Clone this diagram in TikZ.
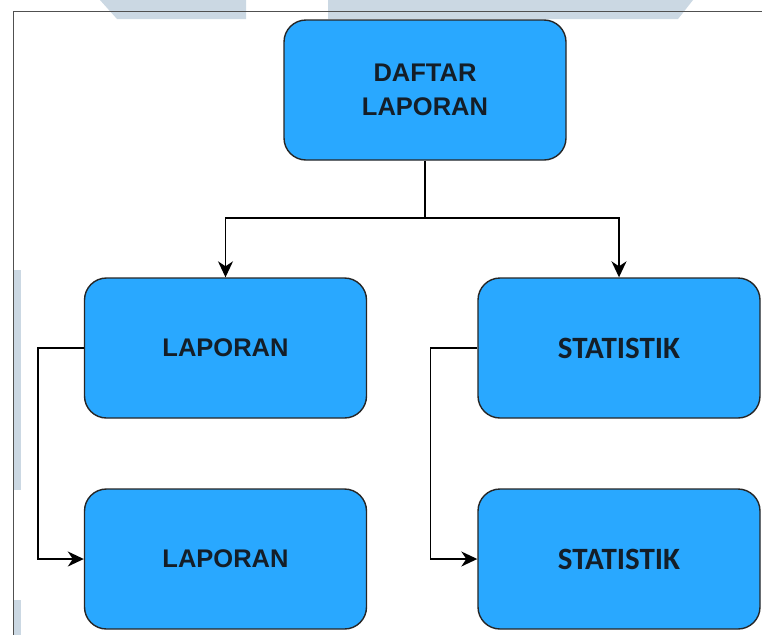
\documentclass[tikz,border=0pt]{standalone}
\usepackage{fontspec}
\setmainfont{Liberation Sans}
\newfontfamily\statfont{Carlito}
\usetikzlibrary{arrows.meta}
\definecolor{boxblue}{RGB}{41,168,255}
\definecolor{wmark}{RGB}{203,216,227}
\definecolor{framegray}{RGB}{80,80,80}
\definecolor{txt}{RGB}{20,30,40}
\begin{document}
\begin{tikzpicture}[x=1pt,y=-1pt,
  menubox/.style={draw=black!85, line width=1.4pt, fill=boxblue, rounded corners=22pt,
    minimum width=282pt, minimum height=140pt, inner sep=0pt, align=center, text=txt},
  conn/.style={draw=black, line width=1.6pt},
  arr/.style={conn, -{Stealth[length=16pt,width=15pt,inset=5pt]}},
  wm/.style={fill=wmark, draw=none}]
\useasboundingbox (0,0) rectangle (762,635);
\fill[white] (0,0) rectangle (762,635);
% faint watermark fragments
\fill[wm] (100,0) -- (246,0) -- (246,19) -- (117,19) -- cycle;
\fill[wm] (328,0) -- (693,0) -- (678,19) -- (328,19) -- cycle;
\fill[wm] (13,270) rectangle (21,490);
\fill[wm] (13,600) rectangle (21,635);
% frame lines
\draw[framegray, line width=1pt] (762,11) -- (13,11) -- (13,635);
% nodes
\node[menubox, font=\bfseries\fontsize{25.5}{34}\selectfont] (top) at (425,90) {DAFTAR\\LAPORAN};
\node[menubox, font=\bfseries\fontsize{25.5}{30}\selectfont] (lap1) at (225.5,348) {LAPORAN};
\node[menubox, font=\statfont\bfseries\fontsize{31}{34}\selectfont] (sta1) at (619,348) {STATISTIK};
\node[menubox, font=\bfseries\fontsize{25.5}{30}\selectfont] (lap2) at (225.5,559) {LAPORAN};
\node[menubox, font=\statfont\bfseries\fontsize{31}{34}\selectfont] (sta2) at (619,559) {STATISTIK};
% connectors
\coordinate (split) at (425,218);
\draw[conn] (top.south) -- (split);
\draw[arr] (split) -| (lap1.north);
\draw[arr] (split) -| (sta1.north);
\draw[arr] (lap1.west) -- ++(-46,0) |- (lap2.west);
\draw[arr] (sta1.west) -- ++(-47,0) |- (sta2.west);
\end{tikzpicture}
\end{document}
